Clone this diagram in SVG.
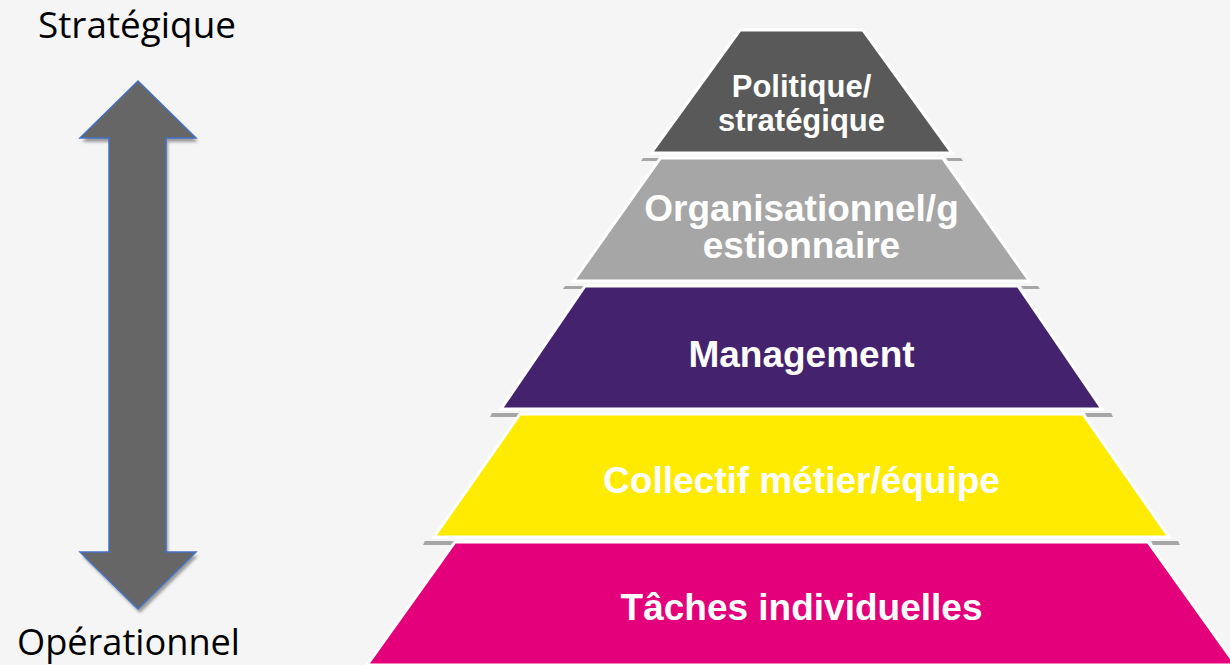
<svg xmlns="http://www.w3.org/2000/svg" width="1230" height="665" viewBox="0 0 1230 665">
<defs>
<filter id="blur" x="-20%" y="-20%" width="140%" height="140%"><feGaussianBlur stdDeviation="1.5"/></filter>
</defs>
<style>
.lbl{font-family:"Open Sans","Liberation Sans",sans-serif;font-size:36px;fill:#000}
.tier{stroke:#FFFFFF;stroke-width:3;stroke-linejoin:miter}
.sh{fill:#A6A6A6}
.tt{font-family:"Liberation Sans",Arial,sans-serif;font-weight:bold;fill:#FFFFFF;text-anchor:middle}
</style>
<rect width="1230" height="665" fill="#F5F5F5"/>
<g id="label-strategique"><text class="lbl" x="38" y="38" textLength="198" lengthAdjust="spacingAndGlyphs">Stratégique</text></g>
<g id="label-operationnel"><text class="lbl" x="17" y="655" font-size="35" textLength="223" lengthAdjust="spacingAndGlyphs">Opérationnel</text></g>
<g id="connectors">
<g id="double-arrow">
<polygon points="138,81 196,138 166,138 166,552 196,552 138,609 80,552 109,552 109,138 80,138" fill="#9A9A9A" transform="translate(2,4)" filter="url(#blur)"/>
<polygon points="138,81 196,138 166,138 166,552 196,552 138,609 80,552 109,552 109,138 80,138" fill="#666666" stroke="#4472C4" stroke-width="1.5"/>
</g>
</g>
<g id="shadows">
<polygon class="sh" points="643,158 660,158 658,161 641,161"/>
<polygon class="sh" points="946,158 961,158 963,161 948,161"/>
<polygon class="sh" points="565,286 585,286 583,289 563,289"/>
<polygon class="sh" points="1021,286 1038,286 1040,289 1023,289"/>
<polygon class="sh" points="492,413 520,413 518,417 490,417"/>
<polygon class="sh" points="1085,413 1111,413 1113,417 1087,417"/>
<polygon class="sh" points="425,541 455,541 453,545 423,545"/>
<polygon class="sh" points="1151,541 1178,541 1180,545 1153,545"/>
</g>
<g id="tier1">
<polygon class="tier" fill="#595959" points="740,30 863,30 952,153 651,153"/>
<text class="tt" font-size="31" x="801.5" y="97">Politique/</text>
<text class="tt" font-size="31" x="801.5" y="131">stratégique</text>
</g>
<g id="tier2">
<polygon class="tier" fill="#A6A6A6" points="660.5,158 942.5,158 1029.5,281 573.5,281"/>
<text class="tt" font-size="37" x="801.5" y="221">Organisationnel/g</text>
<text class="tt" font-size="37" x="801.5" y="258">estionnaire</text>
</g>
<g id="tier3">
<polygon class="tier" fill="#45226E" points="585,286 1018,286 1102,409 501,409"/>
<text class="tt" font-size="37" x="801.5" y="367">Management</text>
</g>
<g id="tier4">
<polygon class="tier" fill="#FFEB00" points="520,414 1083,414 1169,537 434,537"/>
<text class="tt" font-size="37" x="801.5" y="493">Collectif métier/équipe</text>
</g>
<g id="tier5">
<polygon class="tier" fill="#E4007A" points="455,542 1148,542 1236,665 367,665"/>
<text class="tt" font-size="37" x="801.5" y="620">Tâches individuelles</text>
</g>
</svg>
